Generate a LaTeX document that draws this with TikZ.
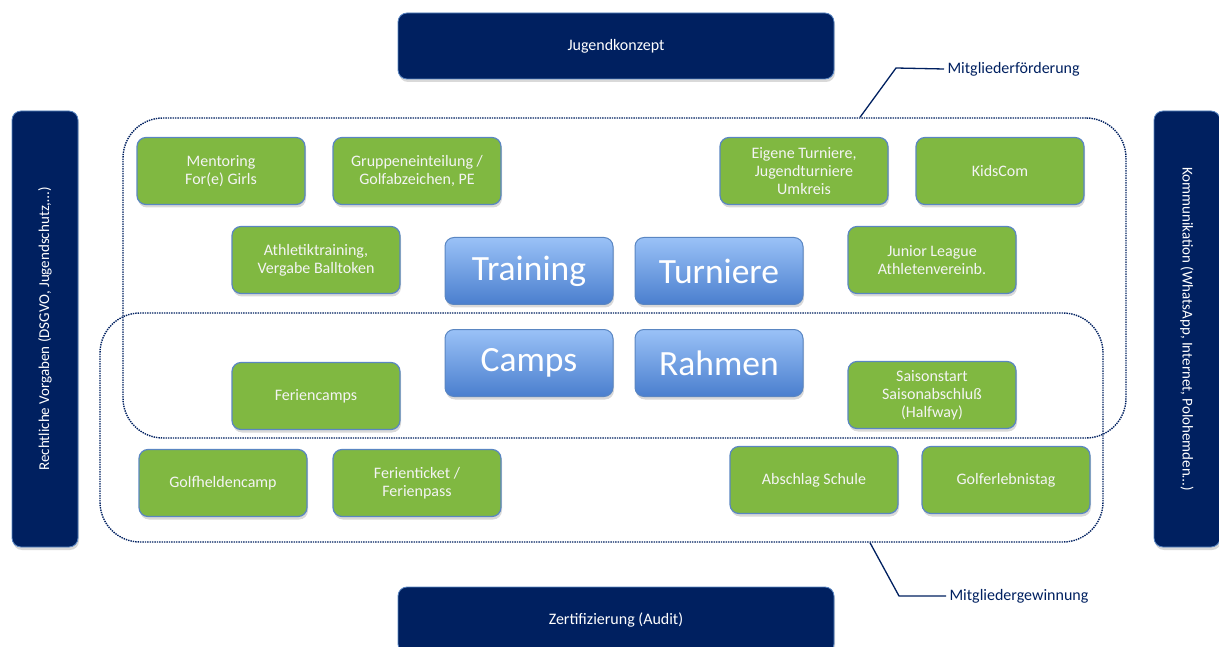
\documentclass[tikz,border=0pt]{standalone}
\usepackage{fontspec}
\setmainfont{Carlito}
\usetikzlibrary{shadows}

\definecolor{navy}{HTML}{002060}
\definecolor{gruen}{HTML}{80B841}
\definecolor{rand}{HTML}{5A86C2}
\definecolor{hellblau}{HTML}{9AC1F7}
\definecolor{dunkelblau}{HTML}{4A7FCE}
\definecolor{schrift}{HTML}{F4F4F4}

\tikzset{
  schatten/.style={drop shadow={opacity=0.3, shadow xshift=1pt, shadow yshift=-3pt}},
  saeule/.style={rounded corners=9pt, fill=navy, draw=rand, line width=0.8pt, schatten,
    text=white, font=\fontsize{16}{19}\selectfont, align=center},
  feld/.style={rounded corners=9pt, fill=gruen, draw=rand, line width=1.2pt, schatten,
    text=schrift, font=\fontsize{16}{18}\selectfont, align=center,
    minimum width=168pt, minimum height=67pt},
  kern/.style={rounded corners=9pt, top color=hellblau, bottom color=dunkelblau, draw=rand,
    line width=1pt, schatten, text=white, font=\fontsize{35.5}{38}\selectfont,
    minimum width=168pt, minimum height=67pt},
  bereich/.style={draw=navy, densely dotted, line width=1.4pt, rounded corners=40pt},
  hinweis/.style={text=navy, font=\fontsize{16}{19}\selectfont, anchor=west}
}

\begin{document}
\begin{tikzpicture}[x=1pt, y=-1pt]
    \useasboundingbox (0,0) rectangle (1219,647);

    % Rahmen aussen
    \node[saeule, minimum width=436pt, minimum height=66pt] (konzept) at (616,46) {Jugendkonzept};
    \node[saeule, minimum width=436pt, minimum height=66pt] (audit) at (616,620) {Zertifizierung (Audit)};
    \node[saeule, rotate=90, minimum width=436pt, minimum height=66pt, font=\fontsize{15}{18}\selectfont]
        (recht) at (45,329) {Rechtliche Vorgaben (DSGVO, Jugendschutz,…)};
    \node[saeule, rotate=-90, minimum width=436pt, minimum height=66pt, font=\fontsize{15}{18}\selectfont]
        (kommunikation) at (1187,329) {Kommunikation (WhatsApp, Internet, Polohemden…)};

    % Bereiche
    \node[bereich, minimum width=1003pt, minimum height=320pt] (foerderung) at (624.5,278) {};
    \node[bereich, minimum width=1003pt, minimum height=229pt] (gewinnung) at (601.5,427.5) {};

    % Kernthemen
    \node[kern] (training) at (529,271) {Training};
    \node[kern] (turniere) at (719,271) {Turniere};
    \node[kern] (camps) at (529,363) {Camps};
    \node[kern] (rahmen) at (719,363) {Rahmen};

    % Massnahmen
    \node[feld] (mentoring) at (221,171) {Mentoring\\For(e) Girls};
    \node[feld] (gruppen) at (417,171) {Gruppeneinteilung /\\Golfabzeichen, PE};
    \node[feld] (eigene) at (804,171) {Eigene Turniere,\\Jugendturniere\\Umkreis};
    \node[feld] (kidscom) at (1000,171) {KidsCom};
    \node[feld] (athletik) at (316,260) {Athletiktraining,\\Vergabe Balltoken};
    \node[feld] (junior) at (932,260) {Junior League\\Athletenvereinb.};
    \node[feld] (feriencamps) at (316,396) {Feriencamps};
    \node[feld] (saison) at (932,395) {Saisonstart\\Saisonabschluß\\(Halfway)};
    \node[feld] (helden) at (223,483) {Golfheldencamp};
    \node[feld] (ticket) at (417,483) {Ferienticket /\\Ferienpass};
    \node[feld] (abschlag) at (814,480) {Abschlag Schule};
    \node[feld] (erlebnis) at (1006,480) {Golferlebnistag};

    % Beschriftung der Bereiche
    \node[hinweis] (lblfoerderung) at (944,69) {Mitgliederförderung};
    \node[hinweis] (lblgewinnung) at (946,596) {Mitgliedergewinnung};
    \coordinate (kf) at (foerderung.north -| 860,0);
    \coordinate (kg) at (gewinnung.south -| 870,0);
    \draw[navy, line width=1.3pt] (kf) -- (896,68) -- (lblfoerderung.west);
    \draw[navy, line width=1.3pt] (kg) -- (899,596) -- (lblgewinnung.west);
\end{tikzpicture}
\end{document}
